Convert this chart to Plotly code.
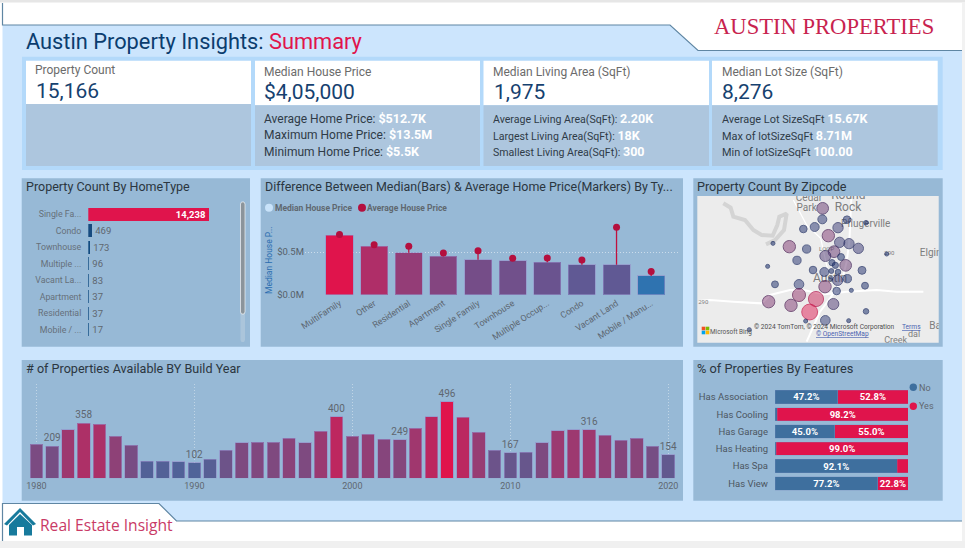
import plotly.graph_objects as go

# ---------- data ----------
home_types = ["Single Fa...", "Condo", "Townhouse", "Multiple ...", "Vacant La...", "Apartment", "Residential", "Mobile / ..."]
home_counts = [14238, 469, 173, 96, 83, 37, 37, 17]

price_types = ["MultiFamily", "Other", "Residential", "Apartment", "Single Family", "Townhouse", "Multiple Occup...", "Condo", "Vacant Land", "Mobile / Manu..."]
median_price = [0.699, 0.566, 0.492, 0.449, 0.41, 0.398, 0.379, 0.352, 0.352, 0.219]
average_price = [0.705, 0.586, 0.566, 0.488, 0.516, 0.426, 0.43, 0.406, 0.789, 0.273]

years = list(range(1980, 2021))
year_counts = [222, 209, 315, 358, 351, 274, 213, 110, 112, 106, 102, 123, 183, 229, 235, 233, 261, 229, 306, 400,
               274, 287, 252, 249, 323, 399, 496, 395, 298, 181, 167, 168, 229, 308, 313, 316, 280, 246, 259, 209, 154]
labelled_years = [1981, 1983, 1990, 1999, 2003, 2006, 2010, 2015, 2020]

features = ["Has Association", "Has Cooling", "Has Garage", "Has Heating", "Has Spa", "Has View"]
feature_no = [47.2, 1.8, 45.0, 1.0, 92.1, 77.2]
feature_yes = [52.8, 98.2, 55.0, 99.0, 7.9, 22.8]

# map grid position of each zipcode and its property count
zip_x = [398, 397, 471, 528, 340, 374, 444, 415, 249, 298, 350, 449, 477, 505, 432, 406, 453, 590, 321, 426, 436, 467, 233, 369,
         403, 424, 444, 516, 422, 443, 472, 255, 327, 405, 525, 440, 484, 327, 378, 236, 303, 430, 359, 528, 406, 347, 476, 178]
zip_y = [100, 133, 134, 143, 162, 156, 158, 182, 205, 215, 222, 202, 206, 220, 230, 243, 246, 237, 256, 263, 271, 271, 274, 285,
         291, 288, 291, 286, 311, 316, 311, 328, 328, 335, 332, 348, 346, 360, 372, 380, 391, 387, 411, 409, 436, 438, 437, 464]
zip_count = [546, 319, 229, 80, 229, 319, 425, 612, 38, 612, 272, 425, 425, 425, 546, 484, 189, 38, 272, 153, 153, 546, 23, 229,
             319, 93, 121, 250, 30, 425, 272, 189, 370, 612, 189, 229, 30, 682, 915, 612, 612, 484, 1000, 121, 370, 30, 30, 38]

road_x = [25, 60, 130, 215, 240, 300, 340, 405, 470, 560, 620, 700]
road_y = [378, 375, 380, 385, 360, 345, 345, 358, 350, 345, 350, 350]
road2_x = [484, 482, 478, 470, 455, 420, 390, 350]
road2_y = [70, 130, 200, 260, 320, 370, 410, 500]
road3_x = [310, 350, 392, 404, 414, 420, 425]
road3_y = [75, 150, 190, 240, 290, 320, 370]
lake_x = [100, 122, 130, 165, 190, 215, 248, 262, 268, 290, 282, 255, 228]
lake_y = [85, 98, 125, 135, 165, 180, 182, 150, 125, 116, 165, 195, 208]
map_labels = ["Cedar", "Round", "Park", "Rock", "Pflugerville", "Elgin", "Austin", "LOOP", "290", "290", "Ba", "dal", "Creek"]
map_label_x = [357, 475, 350, 474, 527, 722, 420, 410, 40, 598, 735, 672, 617]
map_label_y = [70, 62, 100, 100, 149, 234, 313, 224, 381, 236, 455, 478, 497]
map_label_size = [10, 12, 10, 12, 10, 10, 12, 6, 6, 6, 10, 9, 9]

# ---------- helpers ----------
FONT = "Roboto"
CRIMSON = "#e0144c"
W, H = 965, 548
def X(p): return p / W
def Y(p): return 1 - p / H

shapes, annotations = [], []
def rect(x0, y0, x1, y1, color, line=None):
    shapes.append(dict(type="rect", xref="paper", yref="paper", x0=X(x0), x1=X(x1), y0=Y(y0), y1=Y(y1),
                       fillcolor=color, line=dict(width=0) if line is None else line, layer="below"))
def poly(points, color=None, line=None, layer="below"):
    d = "M " + " L ".join(f"{X(a):.5f} {Y(b):.5f}" for a, b in points)
    shapes.append(dict(type="path", xref="paper", yref="paper", path=d + (" Z" if color else ""),
                       fillcolor=color or "rgba(0,0,0,0)", line=line or dict(width=0), layer=layer))
def dot(cx, cy, r, color):
    shapes.append(dict(type="circle", xref="paper", yref="paper", x0=X(cx - r), x1=X(cx + r), y0=Y(cy + r), y1=Y(cy - r),
                       fillcolor=color, line=dict(width=0), layer="above"))
def text(x, y, s, size, color, anchor="left", family=FONT, angle=0):
    annotations.append(dict(xref="paper", yref="paper", x=X(x), y=Y(y), text=s, showarrow=False, xanchor=anchor, yanchor="middle",
                            font=dict(size=size, color=color, family=family), textangle=angle, borderpad=0, borderwidth=0))

# ---------- page furniture ----------
BODY = "#cce5fd"
PANEL = "#97b9d6"
rect(0, 0, W, 2.5, "#e6e6e6")
rect(962, 2.5, W, H, "#f2f2f2")
rect(0, 541, W, H, "#f0f0f0")
poly([(2.5, 25), (670, 25), (698, 50.5), (962, 50.5), (962, 521), (176.5, 521), (159, 503.5), (2.5, 503.5)], BODY)
edge = dict(color="#5f86a3", width=1.2)
poly([(2.5, 3), (2.5, 25), (670, 25), (698, 50.5), (962, 50.5)], line=edge)
poly([(2.5, 541), (2.5, 503.5), (159, 503.5), (176.5, 521), (962, 521)], line=edge)

text(26, 42, f"Austin Property Insights: <span style='color:{CRIMSON}'>Summary</span>", 21.8, "#0b3d6f")
text(823.5, 27, "AUSTIN PROPERTIES", 22.6, "#c8234f", "center", "Liberation Serif")
text(40, 525, "Real Estate Insight", 15.6, "#c93a66", "left", "Open Sans")
poly([(20, 508), (4, 524), (7, 525.5), (20, 512), (33, 525.5), (36, 524)], "#177a9c")
poly([(9, 525), (20, 514), (32, 525), (32, 535.5), (24, 535.5), (24, 527), (17, 527), (17, 535.5), (9, 535.5)], "#177a9c")

# KPI band
rect(22, 56.7, 942.7, 170, "#b3d9fa")
cards = [(26, 251, 104), (255, 480, 105.3), (483.5, 709, 105.3), (712, 937.7, 105.3)]
for a, b, split in cards:
    rect(a, 60.7, b, split, "white")
    rect(a, split, b, 166, "#adc6de")
LABEL = "#6b6b6b"
VALUE = "#16416f"
text(35, 70, "Property Count", 12, LABEL); text(35.5, 91.5, "15,166", 21, VALUE)
text(264, 72, "Median House Price", 12, LABEL); text(264, 92.5, "$4,05,000", 21, VALUE)
text(493, 72, "Median Living Area (SqFt)", 12, LABEL); text(493.5, 92.5, "1,975", 21, VALUE)
text(721.5, 72, "Median Lot Size (SqFt)", 12, LABEL); text(721.5, 92.5, "8,276", 21, VALUE)
DK = "#2f3b47"
def kpi(x, y, a, b, size):
    text(x, y, f"{a} <b style='color:white;font-size:12.5px'>{b}</b>", size, DK)
kpi(264, 118, "Average Home Price:", "$512.7K", 12)
kpi(264, 134.5, "Maximum Home Price:", "$13.5M", 12)
kpi(264, 151, "Minimum Home Price:", "$5.5K", 12)
kpi(492.5, 118.5, "Average Living Area(SqFt):", "2.20K", 10.6)
kpi(492.5, 135, "Largest Living Area(SqFt):", "18K", 10.6)
kpi(492.5, 151, "Smallest Living Area(SqFt):", "300", 10.6)
kpi(721.5, 118, "Average Lot SizeSqFt", "15.67K", 10.9)
kpi(721.5, 135, "Max of lotSizeSqFt", "8.71M", 10.9)
kpi(721.5, 151, "Min of lotSizeSqFt", "100.00", 10.9)

# chart panels
rect(21.7, 178.3, 250, 346.7, PANEL)
rect(260.7, 178.3, 683, 346.7, PANEL)
rect(693.3, 178.3, 942.7, 346.7, PANEL)
rect(21.7, 360, 683, 500.7, PANEL)
rect(693.3, 360, 942.7, 500.7, PANEL)
TITLE = "#2b3640"
text(26, 186, "Property Count By HomeType", 12.5, TITLE)
text(265, 186, "Difference Between Median(Bars) &amp; Average Home Price(Markers) By Ty...", 12.45, TITLE)
text(697, 186, "Property Count By Zipcode", 12.6, TITLE)
text(26, 368, "# of Properties Available BY Build Year", 12.6, TITLE)
text(697, 368, "% of Properties By Features", 12.8, TITLE)

fig = go.Figure()
GREY = "#5f6770"
base_axis = dict(showline=False, zeroline=False, ticks="", showgrid=False, automargin=False)

# ---------- home type bars ----------
fig.add_trace(go.Bar(
    y=home_types, x=home_counts, orientation="h", xaxis="x", yaxis="y", width=0.77,
    marker=dict(color=home_counts, cmin=0, cmax=14238, colorscale=[[0, "#0f4c81"], [1, CRIMSON]], line=dict(width=0)),
    texttemplate="%{x:,}", textposition=["inside"] + ["outside"] * 7, insidetextanchor="end",
    insidetextfont=dict(color="white", size=9.5, family=FONT, weight=700), outsidetextfont=dict(color=GREY, size=9.5, family=FONT),
    cliponaxis=False, constraintext="none", showlegend=False))
# scrollbar
poly([(240.5, 204), (241.5, 202), (244, 202), (245, 204), (245, 340), (244, 342), (241.5, 342), (240.5, 340)], "#abc5db")
poly([(240.5, 204), (241.5, 202), (244, 202), (245, 204), (245, 312), (244, 314), (241.5, 314), (240.5, 312)], "#8b949b",
     line=dict(color="white", width=0.6))

# ---------- median / average ----------
gap = [max(a - m, 0) for a, m in zip(average_price, median_price)]
fig.add_trace(go.Bar(
    x=list(range(10)), y=median_price, xaxis="x2", yaxis="y2", width=0.78,
    marker=dict(color=median_price, cmin=min(median_price), cmax=max(median_price), colorscale=[[0, "#2f73b0"], [1, CRIMSON]],
                line=dict(color="rgba(150,140,200,0.55)", width=1)), showlegend=False))
fig.add_trace(go.Scatter(
    x=list(range(10)), y=average_price, xaxis="x2", yaxis="y2", mode="markers",
    marker=dict(color="#b40f3e", size=7), cliponaxis=False, showlegend=False,
    error_y=dict(type="data", symmetric=False, array=[0] * 10, arrayminus=gap, width=0, color="#c0103f", thickness=1.3)))
dot(269, 207.7, 4, "#c9e3fa"); text(274.5, 208, "<b>Median House Price</b>", 8.5, "#60686f")
dot(362, 207.7, 4, "#b40f3e"); text(367.3, 208, "<b>Average House Price</b>", 8.5, "#60686f")
text(269, 260, "Median House P...", 8.5, "#2a6db0", "center", FONT, -90)

# ---------- map ----------
MAP_X = (697.3, 938.7); MAP_Y = (196, 342.7)
rect(MAP_X[0], MAP_Y[0], MAP_X[1], MAP_Y[1], "#ececec")
fig.add_trace(go.Scatter(x=lake_x, y=lake_y, xaxis="x3", yaxis="y3", mode="lines",
                         line=dict(color="#d4d4d4", width=4), showlegend=False))
for rx, ry, w in [(road_x, road_y, 2), (road2_x, road2_y, 2), (road3_x, road3_y, 1.2)]:
    fig.add_trace(go.Scatter(x=rx, y=ry, xaxis="x3", yaxis="y3", mode="lines", line=dict(color="white", width=w), showlegend=False))
fig.add_trace(go.Scatter(x=map_label_x, y=map_label_y, xaxis="x3", yaxis="y3", mode="text", text=map_labels,
                         textfont=dict(size=map_label_size, color="#7d7d7d", family=FONT), cliponaxis=True, showlegend=False))
fig.add_trace(go.Scatter(
    x=zip_x, y=zip_y, xaxis="x3", yaxis="y3", mode="markers", showlegend=False,
    marker=dict(size=zip_count, sizemode="area", sizeref=8.0, sizemin=2,
                color=zip_count, cmin=0, cmax=1000,
                colorscale=[[0, "rgba(22,45,105,0.8)"], [0.4, "rgba(50,60,120,0.72)"], [0.62, "rgba(125,45,105,0.68)"],
                            [1, "rgba(224,20,76,0.68)"]],
                line=dict(color=zip_count, cmin=0, cmax=1000, width=1,
                          colorscale=[[0, "#14265c"], [0.4, "#1d2a60"], [0.62, "#4a1a50"], [1, "#c80f45"]]))))
text(753.5, 326.5, "© 2024 TomTom, © 2024 Microsoft Corporation", 6.6, "#4c4c4c")
text(902, 326.5, "<u>Terms</u>", 6.6, "#4a62b0")
text(842, 334, "<u>© OpenStreetMap</u>", 6.6, "#4a62b0", "center")
for (cx, cy, c) in [(703.5, 328.5, "#f25022"), (707.5, 328.5, "#7fba00"), (703.5, 332.5, "#00a4ef"), (707.5, 332.5, "#ffb900")]:
    rect(cx - 1.8, cy - 1.8, cx + 1.8, cy + 1.8, c)
text(710, 332, "Microsoft Bing", 6.4, "#555555")

# ---------- years ----------
fig.add_trace(go.Bar(
    x=years, y=year_counts, xaxis="x4", yaxis="y4", width=0.8,
    marker=dict(color=year_counts, cmin=min(year_counts), cmax=max(year_counts), colorscale=[[0, "#4f6399"], [1, CRIMSON]],
                line=dict(color="rgba(150,140,200,0.6)", width=1)),
    text=[f"{v}" if yr in labelled_years else "" for yr, v in zip(years, year_counts)], textposition="outside",
    constraintext="none", textfont=dict(size=10, color=GREY, family=FONT), cliponaxis=False, showlegend=False))

# ---------- features ----------
def feature_text(vals):
    return [f"{v:.1f}%" if v > 10 else "" for v in vals]
for name, vals, col in [("No", feature_no, "#3e6f9e"), ("Yes", feature_yes, CRIMSON)]:
    fig.add_trace(go.Bar(
        y=features, x=vals, name=name, orientation="h", xaxis="x5", yaxis="y5", width=0.77,
        marker=dict(color=col, line=dict(color="rgba(120,140,190,0.5)", width=0.5)),
        text=feature_text(vals), textposition="inside", insidetextanchor="middle", constraintext="none",
        textfont=dict(size=9.5, color="white", family=FONT, weight=700), showlegend=False))
dot(913.3, 387.3, 3.7, "#3e6f9e"); text(918.7, 388, "No", 9, GREY)
dot(913.3, 406.3, 3.7, CRIMSON); text(918.7, 406, "Yes", 9, GREY)

# ---------- axes ----------
bar_px = 120.7 / 14238
price_step = 34.63
layout = dict(
    width=W, height=H, margin=dict(l=0, r=0, t=0, b=0, pad=0), paper_bgcolor="white", plot_bgcolor="rgba(0,0,0,0)",
    template="none", font=dict(family=FONT), shapes=shapes, annotations=annotations, showlegend=False, barmode="stack",
    xaxis=dict(base_axis, domain=[X(88.3), X(232)], range=[0, (232 - 88.3) / bar_px], showticklabels=False, anchor="y"),
    yaxis=dict(base_axis, domain=[Y(338), Y(206)], range=[7.5, -0.5], type="category", anchor="x", ticklabelstandoff=6,
               tickfont=dict(size=8.8, color="#66707a", family=FONT)),
    xaxis2=dict(base_axis, domain=[X(305), X(678)], range=[-(339.5 - 305) / price_step, (678 - 339.5) / price_step], anchor="y2",
                tickmode="array", tickvals=list(range(10)), ticktext=price_types, tickangle=-33, ticklabelstandoff=1,
                tickfont=dict(size=8.8, color="#5c6670", family=FONT)),
    yaxis2=dict(base_axis, domain=[Y(294.7), Y(221.7)], range=[0, 0.855], anchor="x2", tickmode="array", tickvals=[0, 0.5],
                ticktext=["$0.0M", "$0.5M"], showgrid=True, griddash="1px,2px", gridcolor="rgba(255,255,255,0.5)", gridwidth=1,
                tickfont=dict(size=9.5, color="#566069", family=FONT)),
    xaxis3=dict(base_axis, domain=[X(MAP_X[0]), X(MAP_X[1])], range=[22, 746], showticklabels=False, anchor="y3"),
    yaxis3=dict(base_axis, domain=[Y(MAP_Y[1]), Y(MAP_Y[0])], range=[503, 63], showticklabels=False, anchor="x3"),
    xaxis4=dict(base_axis, domain=[X(28.5), X(676.2)], range=[1979.5, 2020.5], anchor="y4", tickmode="array",
                tickvals=[1980, 1990, 2000, 2010, 2020], showgrid=True, griddash="1px,2px", gridcolor="rgba(255,255,255,0.4)",
                gridwidth=1, tickformat="d", ticklabelstandoff=1, tickfont=dict(size=9, color="#5f6770", family=FONT)),
    yaxis4=dict(base_axis, domain=[Y(478.3), Y(384)], range=[0, 611], showticklabels=False, anchor="x4"),
    xaxis5=dict(base_axis, domain=[X(775), X(908)], range=[0, 100], showticklabels=False, anchor="y5"),
    yaxis5=dict(base_axis, domain=[Y(492), Y(388.3)], range=[5.5, -0.5], type="category", anchor="x5", ticklabelstandoff=6,
                tickfont=dict(size=9.5, color="#4c5661", family=FONT)),
)
fig.update_layout(**layout)

fig.write_html("out.html", config=dict(displayModeBar=False),
               post_script="document.body.style.margin='0';document.body.style.overflow='hidden';")
